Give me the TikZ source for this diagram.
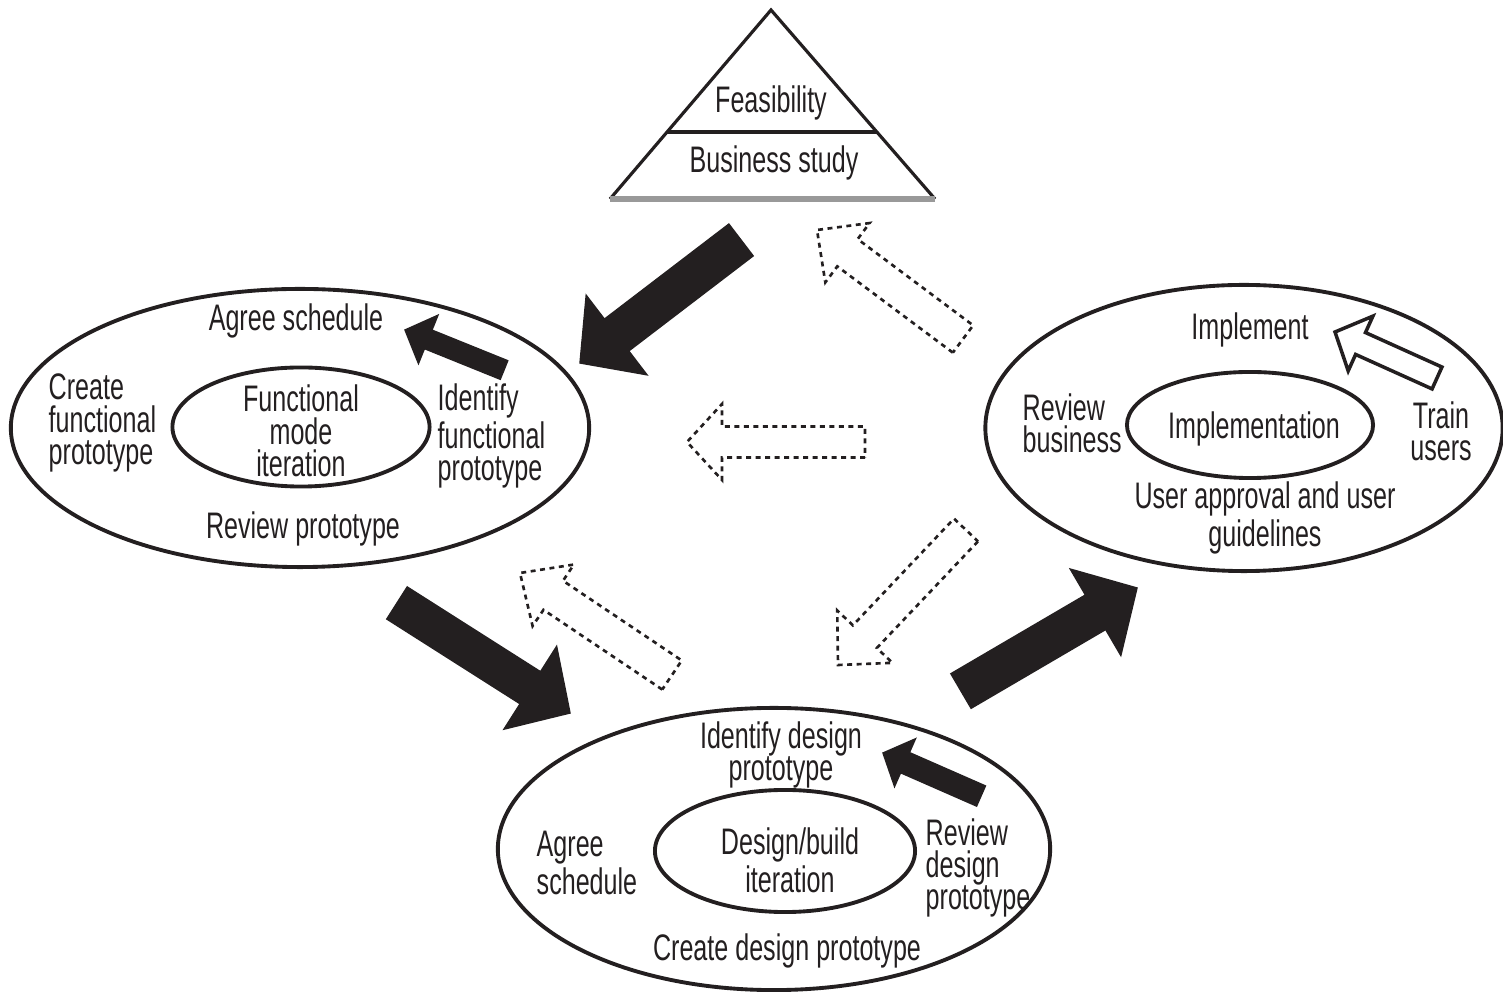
\documentclass[tikz,border=0pt]{standalone}
\usepackage{fontspec}
\setmainfont{Liberation Sans}[FakeStretch=0.68]
\usetikzlibrary{calc,shapes.geometric}
\definecolor{ink}{HTML}{231F20}
\newcommand\blockarr[6]{% #1 style, #2 tail, #3 tip, #4 shaft half width, #5 head half width, #6 head length
  \coordinate (ba-H) at ($(#3)!#6!(#2)$);
  \draw[#1] ($(#2)!#4!90:(#3)$) -- ($(ba-H)!#4!-90:(#2)$) -- ($(ba-H)!#5!-90:(#2)$) -- (#3)
    -- ($(ba-H)!#5!90:(#2)$) -- ($(ba-H)!#4!90:(#2)$) -- ($(#2)!#4!-90:(#3)$) -- cycle;}
\tikzset{
  txt/.style={inner sep=0pt, align=center, font=\fontsize{10.5}{9.2}\selectfont, text=ink, yshift=-0.03cm},
  txtl/.style={txt, align=left, anchor=west},
  outer/.style={ellipse, draw=ink, line width=1.1pt, inner sep=0pt},
  inner/.style={ellipse, draw=ink, line width=1.1pt, inner sep=0pt},
  solidarr/.style={fill=ink, draw=ink, line width=0.4pt, line join=miter},
  dotarr/.style={draw=ink, fill=white, line width=0.75pt, dash pattern=on 1.4pt off 1.3pt},
  openarr/.style={draw=ink, fill=white, line width=1pt, line join=miter}
}
\begin{document}
\begin{tikzpicture}[x=0.01cm, y=-0.01cm]
\useasboundingbox (0,0) rectangle (1503,992);
% triangle
\coordinate (apex) at (771,10);
\coordinate (bl) at (610,199);
\coordinate (br) at (935,199);
\coordinate (dl) at ($(apex)!0.6455!(bl)$);
\coordinate (dr) at ($(apex)!0.6455!(br)$);
\draw[ink, line width=0.9pt, line join=miter] (bl) -- (apex) -- (br);
\draw[ink, line width=1.1pt] (dl) -- (dr);
\draw[gray!80, line width=1.5pt] (bl) -- (br);
\node[txt] (feas) at (771,100) {Feasibility};
\node[txt] (bus) at (774,160) {Business study};
% left ellipse
\node[outer, minimum width=5.78cm, minimum height=2.78cm] (L) at (300,428) {};
\node[inner, minimum width=2.57cm, minimum height=1.19cm] (Li) at (301,427) {};
\node[txt] (l1) at (296,318) {Agree schedule};
\node[txtl] (l2) at (48,420) {Create\\functional\\prototype};
\node[txt] (l3) at (301,428) {Functional\\mode\\iteration};
\node[txtl] (l4) at (437,433) {Identify\\functional\\prototype};
\node[txt] (l5) at (303,526) {Review prototype};
% right ellipse
\node[outer, minimum width=5.17cm, minimum height=2.86cm] (R) at (1244,428) {};
\node[inner, minimum width=2.46cm, minimum height=1.06cm] (Ri) at (1250,425) {};
\node[txt] (r1) at (1250,327) {Implement};
\node[txtl] (r2) at (1022,420) {Review\\business};
\node[txt] (r3) at (1254,426) {Implementation};
\node[txt] (r4) at (1441,428) {Train\\users};
\node[txt] (r5) at (1265,515) {User approval and user\\guidelines};
% bottom ellipse
\node[outer, minimum width=5.52cm, minimum height=2.82cm] (B) at (774,849) {};
\node[inner, minimum width=2.60cm, minimum height=1.22cm] (Bi) at (785,851) {};
\node[txt] (b1) at (781,752) {Identify design\\prototype};
\node[txtl] (b2) at (536,860) {Agree\\schedule};
\node[txt] (b3) at (790,857) {Design/build\\iteration};
\node[txtl] (b4) at (925,865) {Review\\design\\prototype};
\node[txt] (b5) at (787,948) {Create design prototype};
% big solid arrows
\coordinate (s1t) at (741,240); \coordinate (s1p) at (580,363);
\blockarr{solidarr}{s1t}{s1p}{0.2cm}{0.5cm}{0.46cm}
\coordinate (s2t) at (397,603); \coordinate (s2p) at (570,713);
\blockarr{solidarr}{s2t}{s2p}{0.19cm}{0.49cm}{0.47cm}
\coordinate (s3t) at (961,691); \coordinate (s3p) at (1137,588);
\blockarr{solidarr}{s3t}{s3p}{0.2cm}{0.5cm}{0.48cm}
% small solid arrows
\coordinate (s4t) at (504,370); \coordinate (s4p) at (405,330);
\blockarr{solidarr}{s4t}{s4p}{0.1cm}{0.26cm}{0.25cm}
\coordinate (s5t) at (981,796); \coordinate (s5p) at (883,753);
\blockarr{solidarr}{s5t}{s5p}{0.11cm}{0.26cm}{0.24cm}
% open arrow in right ellipse
\coordinate (o1t) at (1437,378); \coordinate (o1p) at (1335,332);
\blockarr{openarr}{o1t}{o1p}{0.12cm}{0.3cm}{0.28cm}
% dotted arrows
\coordinate (d1t) at (963,339); \coordinate (d1p) at (817,230);
\blockarr{dotarr}{d1t}{d1p}{0.17cm}{0.37cm}{0.38cm}
\coordinate (d2t) at (865,442); \coordinate (d2p) at (687,442);
\blockarr{dotarr}{d2t}{d2p}{0.155cm}{0.38cm}{0.35cm}
\coordinate (d3t) at (672,675); \coordinate (d3p) at (520,573);
\blockarr{dotarr}{d3t}{d3p}{0.175cm}{0.37cm}{0.4cm}
\coordinate (d4t) at (966,530); \coordinate (d4p) at (838,665);
\blockarr{dotarr}{d4t}{d4p}{0.165cm}{0.38cm}{0.39cm}
\end{tikzpicture}
\end{document}
